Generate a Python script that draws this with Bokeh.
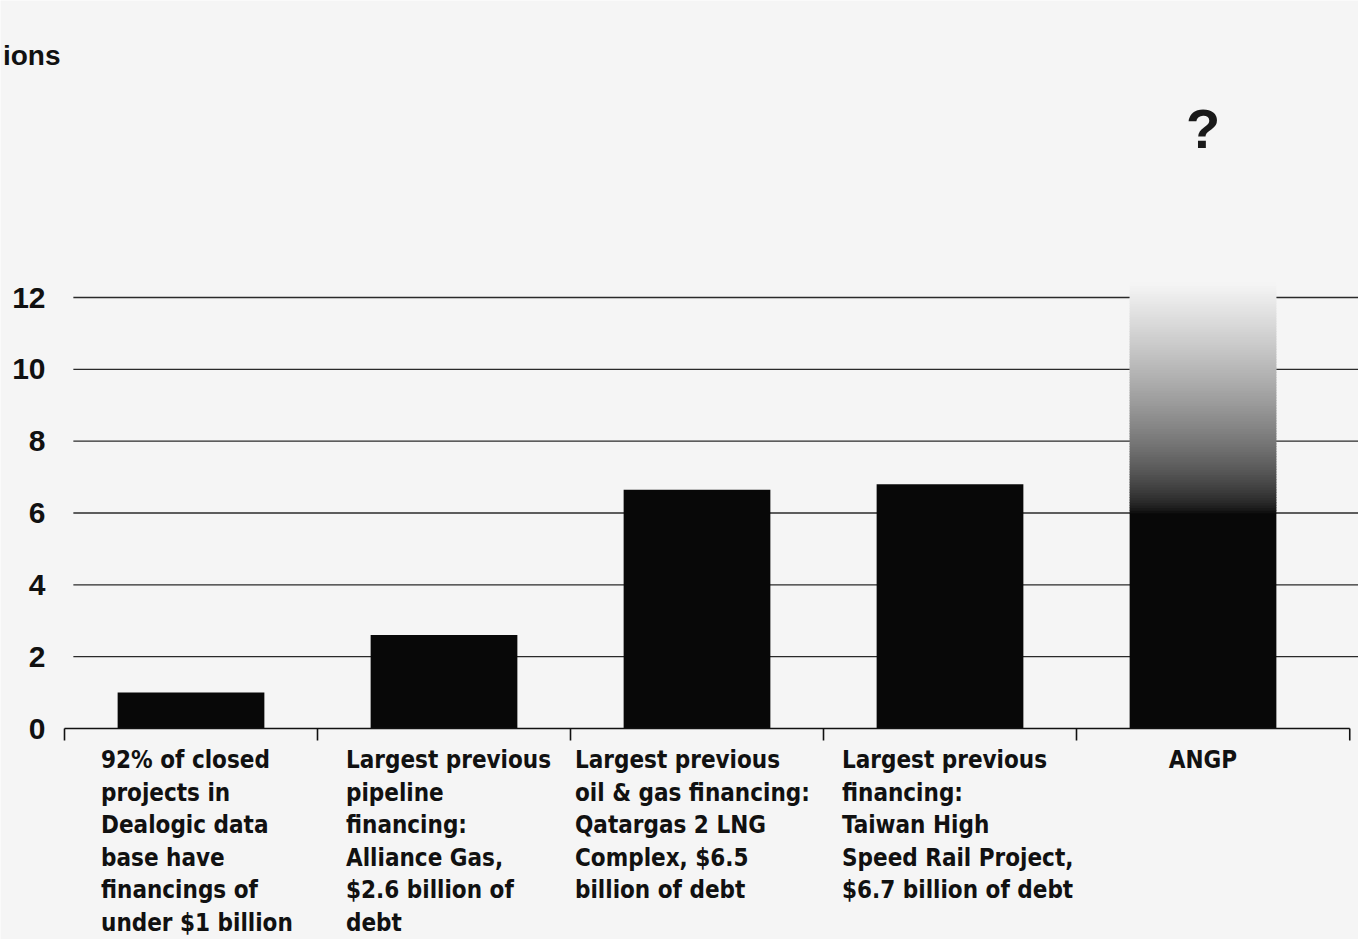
import numpy as np
from bokeh.plotting import figure
from bokeh.models import Range1d
from bokeh.core.properties import value
from bokeh.embed import file_html
from bokeh.resources import INLINE

# ---- data ----
categories = [
    "92% of closed\nprojects in\nDealogic data\nbase have\nfinancings of\nunder $1 billion",
    "Largest previous\npipeline\nfinancing:\nAlliance Gas,\n$2.6 billion of\ndebt",
    "Largest previous\noil & gas financing:\nQatargas 2 LNG\nComplex, $6.5\nbillion of debt",
    "Largest previous\nfinancing:\nTaiwan High\nSpeed Rail Project,\n$6.7 billion of debt",
    "ANGP",
]
bar_values = [1.0, 2.6, 6.65, 6.8]
angp_solid = 6.0
angp_fade_top = 12.4
y_ticks = [0, 2, 4, 6, 8, 10, 12]
y_tick_labels = ["0", "2", "4", "6", "8", "10", "12"]
y_axis_title = "ions"
unknown_mark = "?"

# ---- style ----
W, H = 1358, 939
BG = (245, 245, 245)
BAR = (8, 8, 8)
bg_hex = "#%02x%02x%02x" % BG
bar_hex = "#%02x%02x%02x" % BAR
INK = "#111111"
COND = value("DejaVu Sans Condensed, Liberation Sans")
label_offsets = [-90, -98, -122, -108, 0]
boundary_ticks = [0, 1, 2, 3, 4, 5.08]
PX_PER_X = 253.0
PX_PER_Y = 728 / 20.27
X0, X1 = -64 / PX_PER_X, (W - 64) / PX_PER_X
Y0, Y1 = -(H - 728) / PX_PER_Y, 728 / PX_PER_Y
tick_len = 12 / PX_PER_Y

centers = np.arange(len(categories)) + 0.5

p = figure(width=W, height=H, output_backend="svg", toolbar_location=None,
           x_range=Range1d(X0, X1), y_range=Range1d(Y0, Y1),
           min_border_left=0, min_border_right=0, min_border_top=0, min_border_bottom=0)
p.background_fill_color = bg_hex
p.border_fill_color = bg_hex
p.outline_line_color = None
p.xgrid.visible = False
p.ygrid.visible = False
p.xaxis.visible = False
p.yaxis.visible = False

# grid lines
gy = y_ticks[1:]
p.segment(x0=[0.035] * len(gy), y0=gy, x1=[X1] * len(gy), y1=gy,
          line_color="#2a2a2a", line_width=1.3)

# solid bars
p.vbar(x=centers[:4], top=bar_values, width=0.58, bottom=0,
       fill_color=bar_hex, line_color=None)

# ANGP bar: solid base + fading top
p.vbar(x=[centers[4]], top=[angp_solid], bottom=0, width=0.58,
       fill_color=bar_hex, line_color=None)
n = 90
edges = np.linspace(angp_solid, angp_fade_top, n + 1)
cols = []
for k in range(n):
    t = ((k + 0.5) / n) ** 0.65
    c = [int(round(BAR[j] + (BG[j] - BAR[j]) * t)) for j in range(3)]
    cols.append("#%02x%02x%02x" % tuple(c))
p.vbar(x=[centers[4]] * n, bottom=edges[:-1] - 0.01, top=edges[1:] + 0.02, width=0.58,
       fill_color=cols, line_color=None)

# x axis baseline and boundary ticks
p.segment(x0=[0], y0=[0], x1=[boundary_ticks[-1]], y1=[0], line_color=INK, line_width=1.6)
p.segment(x0=boundary_ticks, y0=[0] * len(boundary_ticks), x1=boundary_ticks,
          y1=[-tick_len] * len(boundary_ticks), line_color=INK, line_width=1.6)

# question mark
p.text(x=[centers[4]], y=[16.7], text=[unknown_mark], text_align="center",
       text_baseline="middle", text_font=value("Liberation Sans"),
       text_font_size="56px", text_font_style="bold", text_color="#1a1a1a")

# y tick labels
p.text(x=[-0.075] * len(y_ticks), y=y_ticks, text=y_tick_labels, text_align="right",
       text_baseline="middle", text_font=value("Liberation Sans"),
       text_font_size="30px", text_font_style="bold", text_color=INK)

# axis title (cropped in the original)
p.text(x=[-0.016], y=[18.74], text=[y_axis_title], text_align="right",
       text_baseline="middle", text_font=value("Liberation Sans"),
       text_font_size="28px", text_font_style="bold", text_color=INK)

# category labels
for i, cat in enumerate(categories):
    p.text(x=[centers[i]], y=[-0.5], text=[cat], x_offset=label_offsets[i],
           text_align="left" if i < 4 else "center", text_baseline="top",
           text_font=COND, text_font_size="24px",
           text_font_style="bold", text_color=INK, text_line_height=1.16)

open("out.html", "w").write(file_html(p, INLINE))
